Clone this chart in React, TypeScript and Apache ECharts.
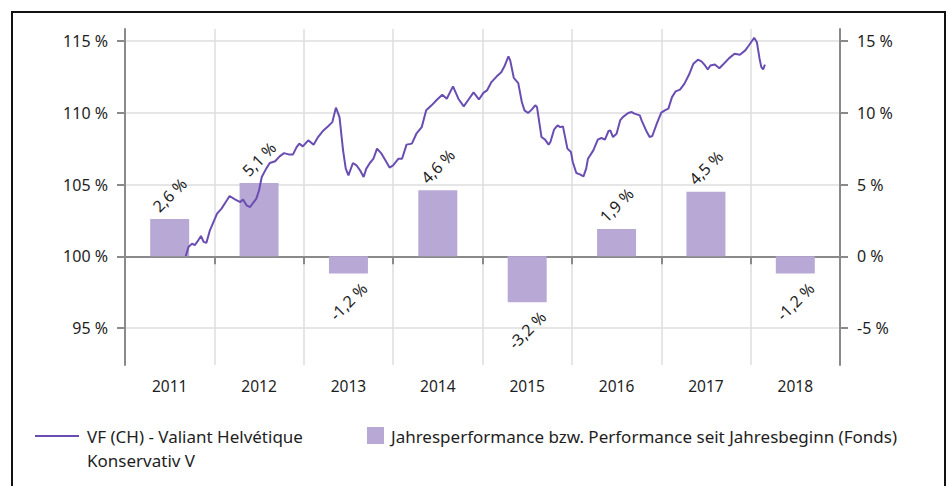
import React, { useEffect, useRef } from "react";
import * as echarts from "echarts";

const years = ["2011", "2012", "2013", "2014", "2015", "2016", "2017", "2018"];
const yearPerformance = [2.6, 5.1, -1.2, 4.6, -3.2, 1.9, 4.5, -1.2];
const leftTicks = [95, 100, 105, 110, 115];
const rightTicks = [-5, 0, 5, 10, 15];

const lineTime = [
  2011.68, 2011.71, 2011.75, 2011.78, 2011.82, 2011.85, 2011.88, 2011.91, 2011.95,
  2012.03, 2012.08, 2012.14, 2012.17, 2012.23, 2012.29, 2012.32, 2012.36, 2012.4,
  2012.44, 2012.47, 2012.5, 2012.53, 2012.58, 2012.62, 2012.68, 2012.73, 2012.78,
  2012.83, 2012.88, 2012.92, 2012.95, 2012.99, 2013.05, 2013.11, 2013.16, 2013.22,
  2013.27, 2013.32, 2013.36, 2013.4, 2013.44, 2013.47, 2013.5, 2013.55, 2013.59,
  2013.63, 2013.67, 2013.7, 2013.74, 2013.78, 2013.82, 2013.87, 2013.91, 2013.96,
  2014.0, 2014.06, 2014.1, 2014.15, 2014.21, 2014.26, 2014.32, 2014.37, 2014.43,
  2014.49, 2014.55, 2014.6, 2014.67, 2014.73, 2014.79, 2014.85, 2014.9, 2014.96,
  2015.01, 2015.05, 2015.1, 2015.16, 2015.21, 2015.25, 2015.29, 2015.31, 2015.35,
  2015.4, 2015.44, 2015.47, 2015.51, 2015.55, 2015.59, 2015.61, 2015.66, 2015.7,
  2015.74, 2015.76, 2015.8, 2015.84, 2015.87, 2015.9, 2015.95, 2015.99, 2016.01,
  2016.05, 2016.09, 2016.13, 2016.16, 2016.18, 2016.24, 2016.29, 2016.33, 2016.37,
  2016.41, 2016.43, 2016.46, 2016.5, 2016.54, 2016.57, 2016.63, 2016.67, 2016.7,
  2016.76, 2016.78, 2016.83, 2016.87, 2016.9, 2016.95, 2017.0, 2017.04, 2017.08,
  2017.12, 2017.16, 2017.21, 2017.26, 2017.31, 2017.36, 2017.41, 2017.45, 2017.49,
  2017.52, 2017.55, 2017.6, 2017.65, 2017.7, 2017.76, 2017.82, 2017.88, 2017.94,
  2017.98, 2018.04, 2018.07, 2018.1, 2018.12, 2018.14, 2018.16,
];

const lineValue = [
  100.02, 100.65, 100.88, 100.77, 101.11, 101.41, 101.0, 100.93, 101.81,
  102.97, 103.32, 103.9, 104.2, 103.97, 103.78, 103.95, 103.55, 103.43,
  103.78, 104.02, 104.6, 105.52, 106.11, 106.5, 106.62, 106.96, 107.19,
  107.1, 107.1, 107.61, 107.85, 107.66, 108.08, 107.78, 108.31, 108.77,
  109.05, 109.35, 110.36, 109.7, 107.38, 106.11, 105.64, 106.5, 106.34,
  105.99, 105.52, 106.11, 106.5, 106.8, 107.5, 107.15, 106.73, 106.18,
  106.34, 106.8, 106.8, 107.78, 107.85, 108.54, 109.0, 110.17, 110.52,
  110.91, 111.26, 110.98, 111.84, 110.98, 110.45, 110.98, 111.42, 110.93,
  111.39, 111.56, 112.14, 112.54, 112.83, 113.3, 113.93, 113.65, 112.44,
  112.07, 110.75, 110.17, 109.98, 110.22, 110.52, 110.4, 108.31, 108.13,
  107.78, 107.96, 108.82, 109.12, 109.0, 109.05, 107.5, 107.26, 106.57,
  105.8, 105.71, 105.57, 106.11, 106.8, 107.38, 108.13, 108.24, 108.13,
  108.73, 108.77, 108.31, 108.54, 109.47, 109.7, 109.98, 110.05, 109.94,
  109.82, 109.47, 108.77, 108.31, 108.38, 109.24, 110.01, 110.17, 110.29,
  111.09, 111.49, 111.61, 112.03, 112.65, 113.42, 113.7, 113.58, 113.3,
  113.02, 113.3, 113.37, 113.11, 113.42, 113.81, 114.12, 114.05, 114.35,
  114.69, 115.23, 114.92, 113.77, 113.18, 113.02, 113.35,
];

const lineName = "VF (CH) - Valiant Helvétique Konservativ V";
const barName = "Jahresperformance bzw. Performance seit Jahresbeginn (Fonds)";

const LINE_COLOR = "#6a4db2";
const BAR_COLOR = "#b8a8d6";
const AXIS_COLOR = "#8a8a8a";
const GRID_COLOR = "#dedede";
const TEXT_COLOR = "#1e1e1e";
const FONT = "'Noto Sans', sans-serif";

const fmtPct = (v: number) => `${String(v).replace(".", ",")} %`;

export default function App() {
  const ref = useRef<HTMLDivElement>(null);

  useEffect(() => {
    if (!ref.current) return;
    const chart = echarts.init(ref.current, undefined, { renderer: "svg" });

    const barData = yearPerformance.map((v) => ({
      value: v,
      label: {
        position: v >= 0 ? "top" : "bottom",
        distance: v >= 0 ? 24 : 28,
      },
    }));

    const lineData = lineTime.map((t, i) => [t, lineValue[i]]);

    chart.setOption({
      animation: false,
      textStyle: { fontFamily: FONT },
      grid: { left: 125, right: 107, top: 29, bottom: 121, containLabel: false },
      xAxis: [
        {
          type: "category",
          data: years,
          boundaryGap: true,
          axisLine: { show: true, lineStyle: { color: AXIS_COLOR, width: 2 } },
          axisTick: { show: true, length: 8, lineStyle: { color: AXIS_COLOR, width: 2 } },
          axisLabel: { color: TEXT_COLOR, fontSize: 15.5, margin: 13, fontFamily: FONT },
          splitLine: { show: true, lineStyle: { color: GRID_COLOR, width: 1.5 } },
        },
        {
          type: "value",
          show: false,
          min: 2011,
          max: 2019,
          splitLine: { show: false },
        },
      ],
      yAxis: [
        {
          type: "value",
          position: "left",
          min: 92.42,
          max: 115.84,
          axisLine: { show: true, lineStyle: { color: AXIS_COLOR, width: 2 } },
          axisTick: {
            show: true,
            length: 8,
            customValues: leftTicks,
            lineStyle: { color: AXIS_COLOR, width: 2 },
          },
          axisLabel: {
            customValues: leftTicks,
            formatter: (v: number) => `${v} %`,
            color: TEXT_COLOR,
            fontSize: 16,
            margin: 17,
            fontFamily: FONT,
          },
          splitLine: { show: true, lineStyle: { color: GRID_COLOR, width: 1.5 } },
        },
        {
          type: "value",
          position: "right",
          min: -7.58,
          max: 15.84,
          axisLine: { show: true, lineStyle: { color: AXIS_COLOR, width: 2 } },
          axisTick: {
            show: true,
            length: 8,
            customValues: rightTicks,
            lineStyle: { color: AXIS_COLOR, width: 2 },
          },
          axisLabel: {
            customValues: rightTicks,
            formatter: (v: number) => `${v} %`,
            color: TEXT_COLOR,
            fontSize: 16,
            margin: 17,
            fontFamily: FONT,
          },
          splitLine: { show: false },
        },
      ],
      series: [
        {
          name: barName,
          type: "bar",
          xAxisIndex: 0,
          yAxisIndex: 1,
          barWidth: 39,
          data: barData,
          itemStyle: { color: BAR_COLOR },
          label: {
            show: true,
            rotate: 45,
            align: "center",
            verticalAlign: "middle",
            color: TEXT_COLOR,
            fontSize: 16,
            fontFamily: FONT,
            formatter: (p: any) => fmtPct(p.value),
          },
          z: 2,
        },
        {
          name: lineName,
          type: "line",
          xAxisIndex: 1,
          yAxisIndex: 0,
          data: lineData,
          showSymbol: false,
          symbol: "none",
          smooth: false,
          lineStyle: { color: LINE_COLOR, width: 2 },
          itemStyle: { color: LINE_COLOR },
          z: 3,
        },
      ],
      graphic: [
        {
          type: "rect",
          shape: { x: 12, y: 12, width: 933, height: 500 },
          style: { fill: "none", stroke: "#111111", lineWidth: 2 },
          silent: true,
        },
        {
          type: "line",
          shape: { x1: 35, y1: 436, x2: 79, y2: 436 },
          style: { stroke: LINE_COLOR, lineWidth: 2 },
        },
        {
          type: "text",
          x: 87,
          y: 424,
          style: {
            text: "VF (CH) - Valiant Helvétique\nKonservativ V",
            fill: TEXT_COLOR,
            fontSize: 17,
            fontFamily: FONT,
            lineHeight: 24,
            verticalAlign: "top",
            align: "left",
          },
        },
        {
          type: "rect",
          shape: { x: 367, y: 427, width: 17, height: 17 },
          style: { fill: BAR_COLOR },
        },
        {
          type: "text",
          x: 391,
          y: 436,
          style: {
            text: barName,
            fill: TEXT_COLOR,
            fontSize: 17,
            fontFamily: FONT,
            verticalAlign: "middle",
            align: "left",
          },
        },
      ],
    });

    return () => chart.dispose();
  }, []);

  return (
    <div
      ref={ref}
      style={{ position: "fixed", left: 0, top: 0, width: 947, height: 486, background: "#ffffff" }}
    />
  );
}
